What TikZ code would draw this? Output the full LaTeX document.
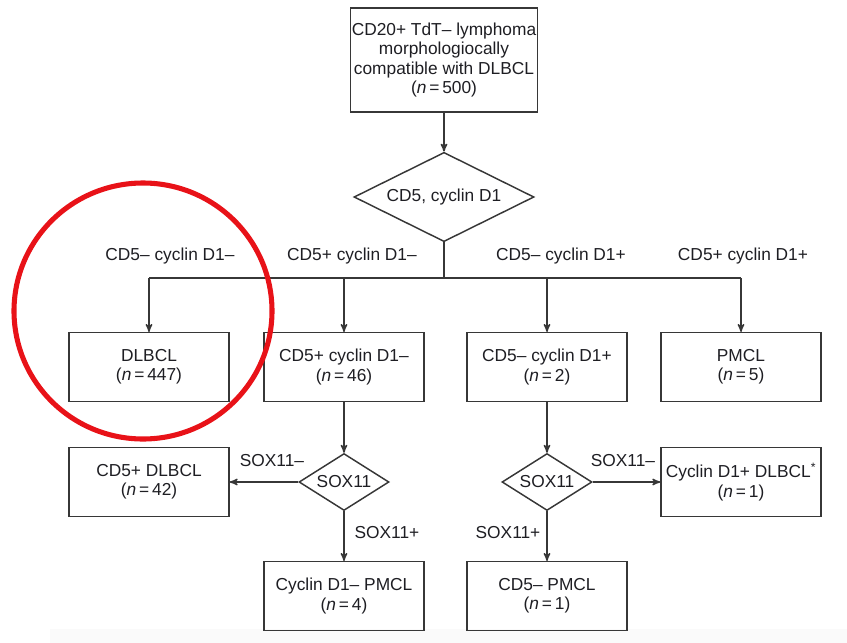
\documentclass[tikz,border=0pt]{standalone}
\usepackage{fontspec}
\setmainfont{Liberation Sans}
\usepackage{tikz}
\usetikzlibrary{shapes.geometric, arrows}
\definecolor{linegray}{RGB}{55,55,55}
\definecolor{textblack}{RGB}{30,30,35}
\definecolor{markred}{RGB}{232,18,24}
\tikzset{
  box/.style={draw=linegray, line width=1.1pt, align=center, text=textblack,
    minimum width=120pt, minimum height=51.5pt, inner sep=1pt},
  test/.style={diamond, draw=linegray, line width=1.1pt, text=textblack, inner sep=0pt},
  lbl/.style={text=textblack},
  flow/.style={draw=linegray, line width=1.1pt, ->, >=stealth'}
}
\newcommand{\cnt}[1]{(\textit{n}\,=\,#1)}

\begin{document}
\begin{tikzpicture}[x=0.75pt, y=-0.75pt, font=\fontsize{13}{14.6}\selectfont]
\useasboundingbox (0,0) rectangle (847,643);
% Fondo
\fill[gray!4] (50,629) rectangle (847,643);
% Caixas
\node[box, minimum width=136.5pt, minimum height=78pt] (top) at (444,60)
  {CD20+ TdT\textendash{} lymphoma\\morphologiocally\\compatible with DLBCL\\\cnt{500}};
\node[test, aspect=2, minimum width=135pt, minimum height=67pt] (dx) at (444,197) {CD5, cyclin D1};
\node[box] (dlbcl) at (149,367) {DLBCL\\\cnt{447}};
\node[box] (pos) at (344,367) {CD5+ cyclin D1\textendash\\\cnt{46}};
\node[box] (neg) at (547,367) {CD5\textendash{} cyclin D1+\\\cnt{2}};
\node[box] (pmcl) at (741,367) {PMCL\\\cnt{5}};
\node[test, aspect=1.6, minimum width=67.5pt, minimum height=42.75pt] (soxa) at (344,482) {SOX11};
\node[test, aspect=1.6, minimum width=67.5pt, minimum height=42.75pt] (soxb) at (547,482) {SOX11};
\node[box] (cdl) at (149,482) {CD5+ DLBCL\\\cnt{42}};
\node[box] (cdr) at (741,482) {Cyclin D1+ DLBCL\textsuperscript{*}\\\cnt{1}};
\node[box] (pmcla) at (344,596) {Cyclin D1\textendash{} PMCL\\\cnt{4}};
\node[box] (pmclb) at (547,596) {CD5\textendash{} PMCL\\\cnt{1}};
% Ramos
\coordinate (bar) at (444,278);
\draw[flow] (top) -- (dx);
\draw[draw=linegray, line width=1.1pt] (dx.south) -- (bar);
\draw[draw=linegray, line width=1.1pt] (bar -| dlbcl.north) -- (bar -| pmcl.north);
\draw[flow] (bar -| dlbcl.north) -- (dlbcl.north);
\draw[flow] (bar -| pos.north) -- (pos.north);
\draw[flow] (bar -| neg.north) -- (neg.north);
\draw[flow] (bar -| pmcl.north) -- (pmcl.north);
\draw[flow] (pos) -- (soxa);
\draw[flow] (neg) -- (soxb);
\draw[flow] (soxa) -- (cdl);
\draw[flow] (soxb) -- (cdr);
\draw[flow] (soxa) -- (pmcla);
\draw[flow] (soxb) -- (pmclb);
% Rótulos
\node[lbl] (la) at (170,256) {CD5\textendash{} cyclin D1\textendash};
\node[lbl] (lb) at (352,256) {CD5+ cyclin D1\textendash};
\node[lbl] (lc) at (561,256) {CD5\textendash{} cyclin D1+};
\node[lbl] (ld) at (743,256) {CD5+ cyclin D1+};
\node[lbl] (sa) at (272,461) {SOX11\textendash};
\node[lbl] (sb) at (387,533) {SOX11+};
\node[lbl] (sc) at (623,461) {SOX11\textendash};
\node[lbl] (sd) at (508,533) {SOX11+};
% Destaque
\draw[markred, line width=3.8pt] (143,311) ellipse [x radius=129, y radius=128];
\end{tikzpicture}
\end{document}
